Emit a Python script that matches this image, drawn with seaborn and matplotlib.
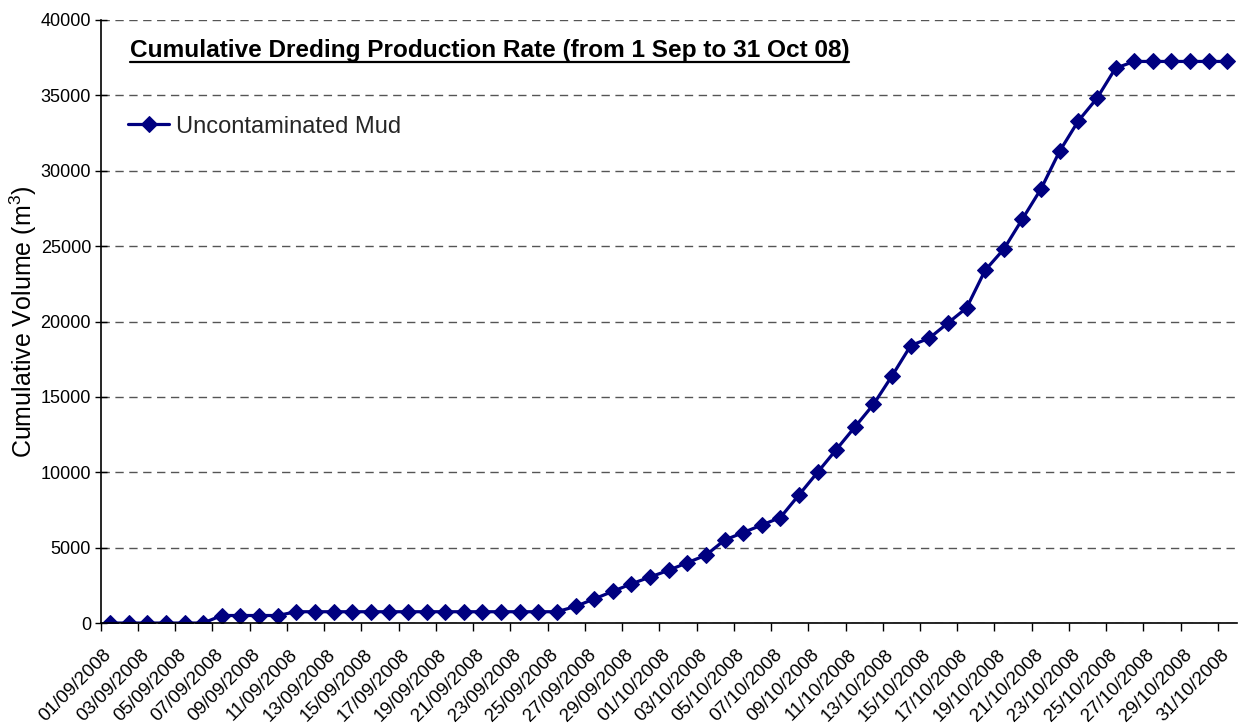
import numpy as np
import pandas as pd
import matplotlib
matplotlib.use("Agg")
import matplotlib.pyplot as plt
import matplotlib.transforms as mtransforms
import seaborn as sns
from matplotlib.lines import Line2D

# daily dates, 1 Sep to 31 Oct 2008
DATES = pd.date_range("2008-09-01", "2008-10-31", freq="D")
DATE_LABELS = [d.strftime("%d/%m/%Y") for d in DATES]

# cumulative volume (m3)
VOLUME = [
    0, 0, 0, 0, 0, 0,                       # 01-06 Sep
    500, 500, 500, 500,                     # 07-10 Sep
    750, 750, 750, 750, 750, 750, 750, 750,  # 11-18 Sep
    750, 750, 750, 750, 750, 750, 750,       # 19-25 Sep
    1100, 1600, 2100, 2600, 3050,            # 26-30 Sep
    3500, 4000, 4500, 5500, 6000, 6500, 7000, 8500, 10000, 11500,
    13000, 14500, 16400, 18400, 18900, 19900, 20900, 23400, 24800, 26800,
    28800, 31300, 33300, 34800, 36800,
    37250, 37250, 37250, 37250, 37250, 37250,
]

SERIES = "Uncontaminated Mud"
TITLE = "Cumulative Dreding Production Rate (from 1 Sep to 31 Oct 08)"
LINE_COLOR = "#000080"

sns.set_style("white")
plt.rcParams["font.family"] = ["Liberation Sans", "DejaVu Sans"]
plt.rcParams["mathtext.fontset"] = "custom"
plt.rcParams["mathtext.rm"] = "Liberation Sans"
plt.rcParams["mathtext.it"] = "Liberation Sans"

df = pd.DataFrame({"idx": np.arange(len(VOLUME)), "volume": VOLUME})

fig = plt.figure(figsize=(12.44, 7.27), dpi=100)
ax = fig.add_axes([0.081, 0.143, 0.913, 0.8295])

sns.lineplot(data=df, x="idx", y="volume", ax=ax, color=LINE_COLOR,
             marker="D", markersize=8.5, markeredgecolor=LINE_COLOR,
             linewidth=2.3, label=SERIES)

ax.set_xlim(-0.5, len(VOLUME) - 0.5)
ax.set_ylim(0, 40000)
ax.set_yticks(np.arange(0, 40001, 5000))
ax.tick_params(axis="y", labelsize=13, length=8, width=1, color="black",
               direction="inout", left=True, pad=3, labelcolor="black")

# labels on every other day, tick marks between categories
ax.set_xticks(np.arange(0, len(VOLUME), 2))
ax.set_xticklabels(DATE_LABELS[::2], rotation=45, ha="right",
                   rotation_mode="anchor", fontsize=13.5, color="black")
ax.tick_params(axis="x", length=0, pad=10)
ax.set_xticks(np.arange(-0.5, len(VOLUME), 2), minor=True)
ax.tick_params(axis="x", which="minor", length=6, width=1, color="black",
               direction="out", bottom=True)
shift = mtransforms.ScaledTranslation(-7 / 100, -9 / 100, fig.dpi_scale_trans)
for lbl in ax.get_xticklabels():
    lbl.set_transform(lbl.get_transform() + shift)

ax.yaxis.grid(True, linestyle=(0, (6, 4)), color="#555555", linewidth=1)
ax.set_axisbelow(True)
for s in ["top", "right"]:
    ax.spines[s].set_visible(False)
for s in ["left", "bottom"]:
    ax.spines[s].set_color("black")
    ax.spines[s].set_linewidth(1.2)

ax.set_xlabel("")
ax.set_ylabel("Cumulative Volume (m$^3$)", fontsize=18, labelpad=1,
              color="black")

leg = ax.legend(loc="center left", bbox_to_anchor=(0.024, 0.823),
                frameon=False, fontsize=17, handlelength=1.75,
                handletextpad=0.3, borderaxespad=0, borderpad=0)

title = ax.text(0.0255, 0.939, TITLE, transform=ax.transAxes, fontsize=17.6,
                fontweight="bold", ha="left", va="baseline", color="black")

# underline the title
fig.canvas.draw()
bb = title.get_window_extent().transformed(fig.transFigure.inverted())
y_line = 1 - 62.3 / 727
fig.add_artist(Line2D([bb.x0, bb.x1], [y_line, y_line],
                      transform=fig.transFigure, color="black", linewidth=1.6))

fig.savefig("out.png", dpi=100)
